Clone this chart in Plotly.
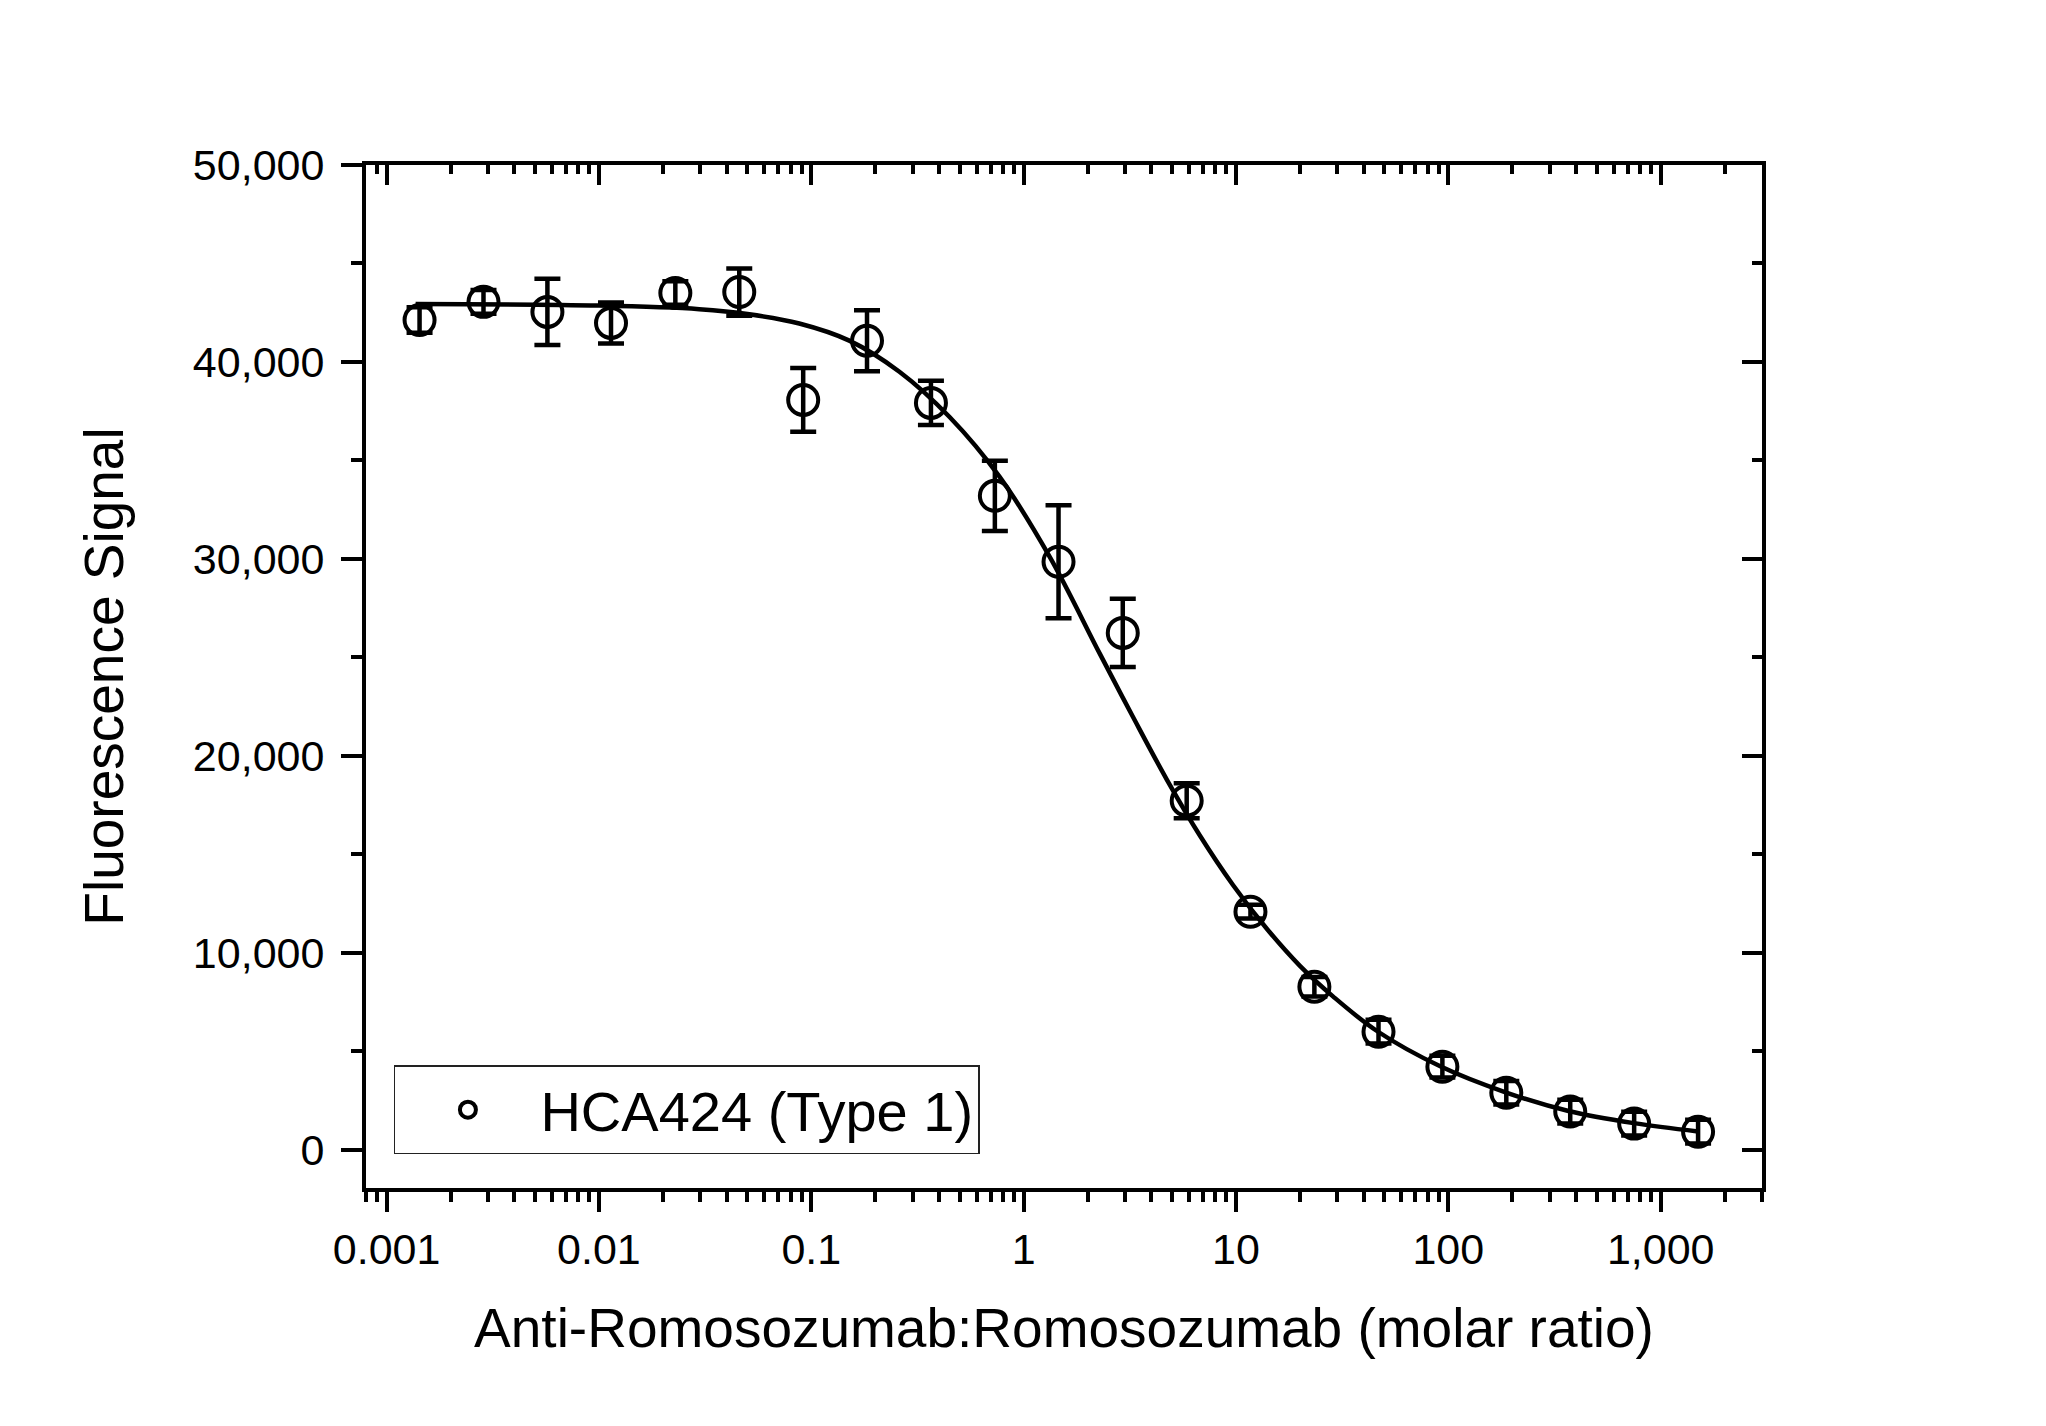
import math
import plotly.graph_objects as go

# ---- data ----
ratio = [0.00143, 0.00286, 0.00572, 0.0114, 0.0229, 0.0458, 0.0916, 0.183,
         0.366, 0.732, 1.46, 2.93, 5.86, 11.7, 23.4, 46.9, 93.75, 187.5,
         375, 750, 1500]
signal = [42130, 43050, 42540, 41980, 43500, 43550, 38070, 41070,
          37920, 33200, 29850, 26240, 17720, 12080, 8270, 5990, 4210, 2890,
          1930, 1320, 910]
signal_err = [650, 600, 1680, 1040, 600, 1200, 1620, 1550,
              1120, 1780, 2870, 1730, 890, 350, 500, 600, 550, 600,
              600, 600, 600]

fit_ratio = [0.00137, 0.01, 0.0297, 0.0511, 0.0878, 0.151, 0.260, 0.448,
             0.771, 1.327, 2.28, 3.27, 4.73, 6.77, 9.68, 14.0, 20.0, 28.7,
             46.3, 91.6, 186, 368, 747, 1497]
fit_signal = [42940, 42860, 42680, 42420, 41950, 41080, 39500, 37200,
              34160, 30100, 25200, 21980, 18780, 15940, 13440, 11200, 9330, 7770,
              6010, 4230, 2910, 1960, 1346, 923]

series_name = "HCA424 (Type 1)"
x_title = "Anti-Romosozumab:Romosozumab (molar ratio)"
y_title = "Fluorescence Signal"
x_tickvals = [0.001, 0.01, 0.1, 1, 10, 100, 1000]
x_ticktext = ["0.001", "0.01", "0.1", "1", "10", "100", "1,000"]
y_tickvals = [0, 10000, 20000, 30000, 40000, 50000]
y_ticktext = ["0", "10,000", "20,000", "30,000", "40,000", "50,000"]

x_range = [0.0008, 3000]
y_range = [-1950, 50000]

FONT = "Liberation Sans, Arial, sans-serif"

# minor tick positions (2..9 within decades) inside the range
x_minor = []
for dec in [0.0001, 0.001, 0.01, 0.1, 1, 10, 100, 1000]:
    for m in range(2, 10):
        v = round(m * dec, 6)
        if x_range[0] <= v <= x_range[1]:
            x_minor.append(v)
y_minor = [5000, 15000, 25000, 35000, 45000]

xr_log = [math.log10(x_range[0]), math.log10(x_range[1])]

fig = go.Figure()

fig.add_trace(go.Scatter(
    x=fit_ratio, y=fit_signal, mode="lines",
    line=dict(color="black", width=4.5, shape="spline", smoothing=1.0),
    showlegend=False, hoverinfo="skip"))

fig.add_trace(go.Scatter(
    x=ratio, y=signal, mode="markers", name=series_name,
    marker=dict(symbol="circle-open", size=30, color="black",
                line=dict(width=4, color="black")),
    error_y=dict(type="data", array=signal_err, visible=True,
                 color="black", thickness=4.5, width=13)))

# invisible trace for mirrored (inward-tick) top/right axes
fig.add_trace(go.Scatter(x=[], y=[], xaxis="x2", yaxis="y2",
                         showlegend=False, hoverinfo="skip"))

axis_common = dict(showgrid=False, zeroline=False, showline=True,
                   linecolor="black", linewidth=4, tickcolor="black",
                   tickwidth=3.5)

fig.update_layout(
    width=2046, height=1426,
    paper_bgcolor="white", plot_bgcolor="white",
    margin=dict(l=366, r=284, t=165, b=238, autoexpand=False),
    font=dict(family=FONT, color="black", size=42),
    xaxis=dict(type="log", range=xr_log, ticks="outside", ticklen=20,
               tickvals=x_tickvals, ticktext=x_ticktext,
               tickfont=dict(size=43, family=FONT),
               minor=dict(tickmode="array", tickvals=x_minor, ticks="outside",
                          ticklen=10, tickwidth=3.5, tickcolor="black", showgrid=False),
               title=dict(text=x_title, font=dict(size=55, family=FONT), standoff=38),
               automargin=False, **axis_common),
    yaxis=dict(range=y_range, ticks="outside", ticklen=21,
               tickvals=y_tickvals, ticktext=y_ticktext,
               tickfont=dict(size=43, family=FONT), ticklabelstandoff=8,
               minor=dict(tickmode="array", tickvals=y_minor, ticks="outside",
                          ticklen=11, tickwidth=3.5, tickcolor="black", showgrid=False),
               title=dict(text=y_title, font=dict(size=55, family=FONT), standoff=53),
               automargin=False, **axis_common),
    xaxis2=dict(type="log", range=xr_log, overlaying="x", side="top",
                ticks="inside", ticklen=20, tickvals=x_tickvals,
                showticklabels=False,
                minor=dict(tickmode="array", tickvals=x_minor, ticks="inside",
                           ticklen=9, tickwidth=3.5, tickcolor="black", showgrid=False),
                automargin=False, **axis_common),
    yaxis2=dict(range=y_range, overlaying="y", side="right",
                ticks="inside", ticklen=20, tickvals=y_tickvals,
                showticklabels=False,
                minor=dict(tickmode="array", tickvals=y_minor, ticks="inside",
                           ticklen=10, tickwidth=3.5, tickcolor="black", showgrid=False),
                automargin=False, **axis_common),
    legend=dict(x=0.02, y=0.033, xanchor="left", yanchor="bottom",
                bgcolor="white", bordercolor="#222", borderwidth=1.5,
                font=dict(size=56, family=FONT), itemwidth=135,
                itemsizing="trace"),
    showlegend=True,
)

fig.write_html("out.html")
